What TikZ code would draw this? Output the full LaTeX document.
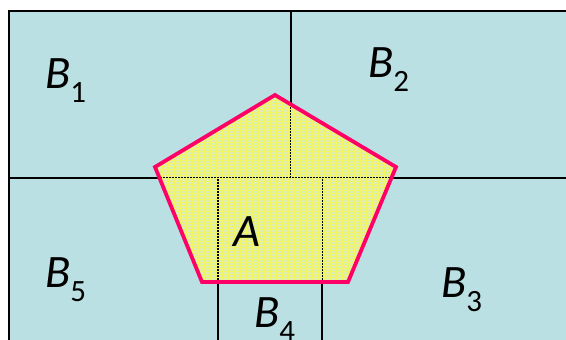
\documentclass[tikz,border=0pt]{standalone}
\usepackage{fontspec}
\setmainfont{Carlito}
\usepackage{tikz}
\usetikzlibrary{patterns}
\definecolor{regionbg}{RGB}{187,224,227}
\definecolor{setfill}{RGB}{222,236,175}
\definecolor{setgrid}{RGB}{242,246,100}
\definecolor{setedge}{RGB}{255,0,102}
\newcommand{\setlab}[2]{\textit{#1}\raisebox{-14pt}{\fontsize{31}{31}\selectfont #2}}

\begin{document}
\begin{tikzpicture}[x=1pt, y=-1pt,
    cut/.style={black, line width=1.2pt},
    lab/.style={inner sep=0pt, anchor=base west, font=\fontsize{46.5}{46.5}\selectfont}
]
    \useasboundingbox (0,0) rectangle (566,340);
    \clip (0,0) rectangle (566,340);
    % the sample space
    \fill[regionbg] (9,11) rectangle (575,350);
    % the event A (fill first, cuts show through the grid)
    \coordinate (p1) at (275,95);
    \coordinate (p2) at (396,167);
    \coordinate (p3) at (348,282);
    \coordinate (p4) at (202,282);
    \coordinate (p5) at (155,167);
    \fill[setfill] (p1) -- (p2) -- (p3) -- (p4) -- (p5) -- cycle;
    \draw[cut] (9,350) -- (9,11) -- (575,11);
    \draw[cut] (9,178) -- (575,178);
    \draw[cut] (291,11) -- (291,178);
    \draw[cut] (218,178) -- (218,350);
    \draw[cut] (322,178) -- (322,350);
    \fill[pattern=grid, pattern color=setgrid, fill opacity=0.75] (p1) -- (p2) -- (p3) -- (p4) -- (p5) -- cycle;
    \draw[setedge, line width=3.8pt, line join=miter] (p1) -- (p2) -- (p3) -- (p4) -- (p5) -- cycle;
    % labels
    \node[lab] (b1) at (45,88) {\setlab{B}{1}};
    \node[lab] (b2) at (368,77) {\setlab{B}{2}};
    \node[lab] (b3) at (441,297) {\setlab{B}{3}};
    \node[lab] (b4) at (254,327) {\setlab{B}{4}};
    \node[lab] (b5) at (45,287) {\setlab{B}{5}};
    \node[lab] (a) at (233,246) {\textit{A}};
\end{tikzpicture}
\end{document}
